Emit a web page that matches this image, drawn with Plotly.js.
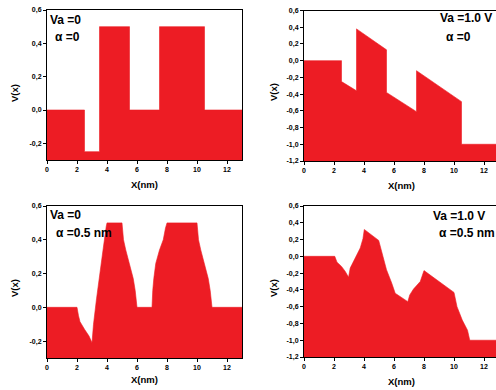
<!DOCTYPE html>
<html><head><meta charset="utf-8">
<script src="https://cdn.plot.ly/plotly-3.0.1.min.js"></script>
<style>html,body{margin:0;padding:0;background:#fff}#c{width:496px;height:390px}</style>
</head><body><div id="c"></div>
<script>
// ---- data ----
const xTicks = [0, 2, 4, 6, 8, 10, 12];
const xTickText = ['0', '2', '4', '6', '8', '10', '12'];
const yTicksA = [-0.2, 0, 0.2, 0.4, 0.6];
const yTickTextA = ['-0,2', '0,0', '0,2', '0,4', '0,6'];
const yTicksB = [-1.2, -1.0, -0.8, -0.6, -0.4, -0.2, 0, 0.2, 0.4, 0.6];
const yTickTextB = ['-1,2', '-1,0', '-0,8', '-0,6', '-0,4', '-0,2', '0,0', '0,2', '0,4', '0,6'];
const yRangeA = [-0.3, 0.6];
const yRangeB = [-1.2, 0.6];

// Va = 0, alpha = 0
const x1 = [0, 2.5, 2.5, 3.5, 3.5, 5.5, 5.5, 7.5, 7.5, 10.5, 10.5, 13];
const v1 = [0, 0, -0.25, -0.25, 0.5, 0.5, 0, 0, 0.5, 0.5, 0, 0];
// Va = 1.0 V, alpha = 0
const x2 = [0, 2.5, 2.5, 3.5, 3.5, 5.5, 5.5, 7.5, 7.5, 10.5, 10.5, 13];
const v2 = [0, 0, -0.25, -0.36, 0.38, 0.13, -0.38, -0.61, -0.12, -0.49, -1.0, -1.0];
// Va = 0, alpha = 0.5 nm
const x3 = [0, 2.0, 2.1, 2.2, 2.5, 2.8, 3.0, 3.1, 3.3, 3.5, 3.75, 3.95, 4.0,
            5.0, 5.02, 5.1, 5.25, 5.5, 5.75, 5.88, 5.95, 6.0,
            7.0, 7.0, 7.05, 7.12, 7.25, 7.5, 7.75, 7.9, 7.98, 8.0,
            10.0, 10.02, 10.1, 10.25, 10.5, 10.75, 10.88, 10.95, 11.0, 13];
const v3 = [0, 0, -0.05, -0.085, -0.13, -0.17, -0.21, -0.1, 0.05, 0.2, 0.35, 0.48, 0.5,
            0.5, 0.47, 0.40, 0.34, 0.26, 0.17, 0.10, 0.05, 0,
            0, 0.05, 0.10, 0.17, 0.26, 0.34, 0.40, 0.47, 0.5, 0.5,
            0.5, 0.47, 0.40, 0.34, 0.26, 0.17, 0.10, 0.05, 0, 0];
// Va = 1.0 V, alpha = 0.5 nm
const x4 = [0, 2.05, 2.2, 2.5, 2.75, 2.97, 3.08, 3.4, 3.75, 3.93, 4.02, 4.98,
            5.2, 5.5, 5.85, 6.08, 6.92, 7.05, 7.3, 7.75, 8.0, 10.0,
            10.2, 10.55, 10.9, 11.05, 13];
const v4 = [0, 0, -0.07, -0.12, -0.18, -0.25, -0.14, -0.02, 0.1, 0.21, 0.32, 0.19,
            0.03, -0.16, -0.32, -0.44, -0.54, -0.46, -0.39, -0.3, -0.17, -0.43,
            -0.6, -0.76, -0.88, -1.0, -1.0];

const vaLabels = ['Va =0', 'Va =1.0 V', 'Va =0', 'Va =1.0 V'];
const alphaLabels = ['α =0', 'α =0', 'α =0.5 nm', 'α =0.5 nm'];
const xTitle = 'X(nm)';
const yTitle = 'V(x)';

// ---- drawing ----
const W = 496, H = 390;
const RED = 'rgb(237,28,36)';
const FONT = 'Liberation Sans, Arial, sans-serif';
const px = v => v / W, py = v => 1 - v / H;

const panels = [
  {xs: x1, ys: v1, yr: yRangeA, yt: yTicksA, ytt: yTickTextA, dx: [47, 242], dy: [10, 160], xr: [0, 13], mirrorY: true},
  {xs: x2, ys: v2, yr: yRangeB, yt: yTicksB, ytt: yTickTextB, dx: [304, 496], dy: [10.5, 161], xr: [0, 12.8], mirrorY: false},
  {xs: x3, ys: v3, yr: yRangeA, yt: yTicksA, ytt: yTickTextA, dx: [47, 242], dy: [206, 358], xr: [0, 13], mirrorY: true},
  {xs: x4, ys: v4, yr: yRangeB, yt: yTicksB, ytt: yTickTextB, dx: [304, 496], dy: [206, 357], xr: [0, 12.8], mirrorY: false}
];

const traces = [];
const layout = {
  width: W, height: H, margin: {l: 0, r: 0, t: 0, b: 0},
  paper_bgcolor: '#fff', plot_bgcolor: '#fff', showlegend: false,
  font: {family: FONT, color: '#000'},
  annotations: []
};

const vaPos = [[65, 20], [466, 18], [65, 215], [459, 216]];
const alPos = [[67, 37], [458, 37], [84, 233], [467, 233]];
const xtPos = [[144, 184], [401, 185], [144, 379], [401, 381]];
const ytPos = [[14, 93], [273, 92], [14, 288], [273, 288]];

panels.forEach((p, i) => {
  const n = i + 1;
  const xa = n === 1 ? 'x' : 'x' + n, ya = n === 1 ? 'y' : 'y' + n;
  traces.push({x: [0, 13], y: [p.yr[0], p.yr[0]], xaxis: xa, yaxis: ya, mode: 'lines',
               line: {width: 0, color: RED}, hoverinfo: 'skip'});
  traces.push({x: p.xs, y: p.ys, xaxis: xa, yaxis: ya, mode: 'lines', fill: 'tonexty',
               fillcolor: RED, line: {width: 0.6, color: RED}});
  const common = {showgrid: false, zeroline: false, showline: true, linecolor: '#000', linewidth: 1,
                  ticks: 'outside', ticklen: 3, tickwidth: 1, tickcolor: '#000',
                  tickfont: {family: FONT, size: 7, weight: 'bold', color: '#000'}, fixedrange: true};
  layout['xaxis' + (n === 1 ? '' : n)] = Object.assign({}, common, {
    domain: [px(p.dx[0]), px(p.dx[1])], range: p.xr, anchor: ya, mirror: true,
    tickmode: 'array', tickvals: xTicks, ticktext: xTickText});
  layout['yaxis' + (n === 1 ? '' : n)] = Object.assign({}, common, {
    domain: [py(p.dy[1]), py(p.dy[0])], range: p.yr, anchor: xa, mirror: p.mirrorY,
    tickmode: 'array', tickvals: p.yt, ticktext: p.ytt});
  const tf = (s) => ({family: FONT, size: s, weight: 'bold', color: '#000'});
  layout.annotations.push({xref: 'paper', yref: 'paper', x: px(vaPos[i][0]), y: py(vaPos[i][1]),
    text: vaLabels[i], showarrow: false, xanchor: 'center', yanchor: 'middle', font: tf(12)});
  layout.annotations.push({xref: 'paper', yref: 'paper', x: px(alPos[i][0]), y: py(alPos[i][1]),
    text: alphaLabels[i], showarrow: false, xanchor: 'center', yanchor: 'middle', font: tf(12)});
  layout.annotations.push({xref: 'paper', yref: 'paper', x: px(xtPos[i][0]), y: py(xtPos[i][1]),
    text: xTitle, showarrow: false, xanchor: 'center', yanchor: 'middle', font: tf(9.5)});
  layout.annotations.push({xref: 'paper', yref: 'paper', x: px(ytPos[i][0]), y: py(ytPos[i][1]),
    text: yTitle, showarrow: false, xanchor: 'center', yanchor: 'middle', textangle: -90, font: tf(9.5)});
});

Plotly.newPlot('c', traces, layout, {staticPlot: true, displayModeBar: false});
</script></body></html>
